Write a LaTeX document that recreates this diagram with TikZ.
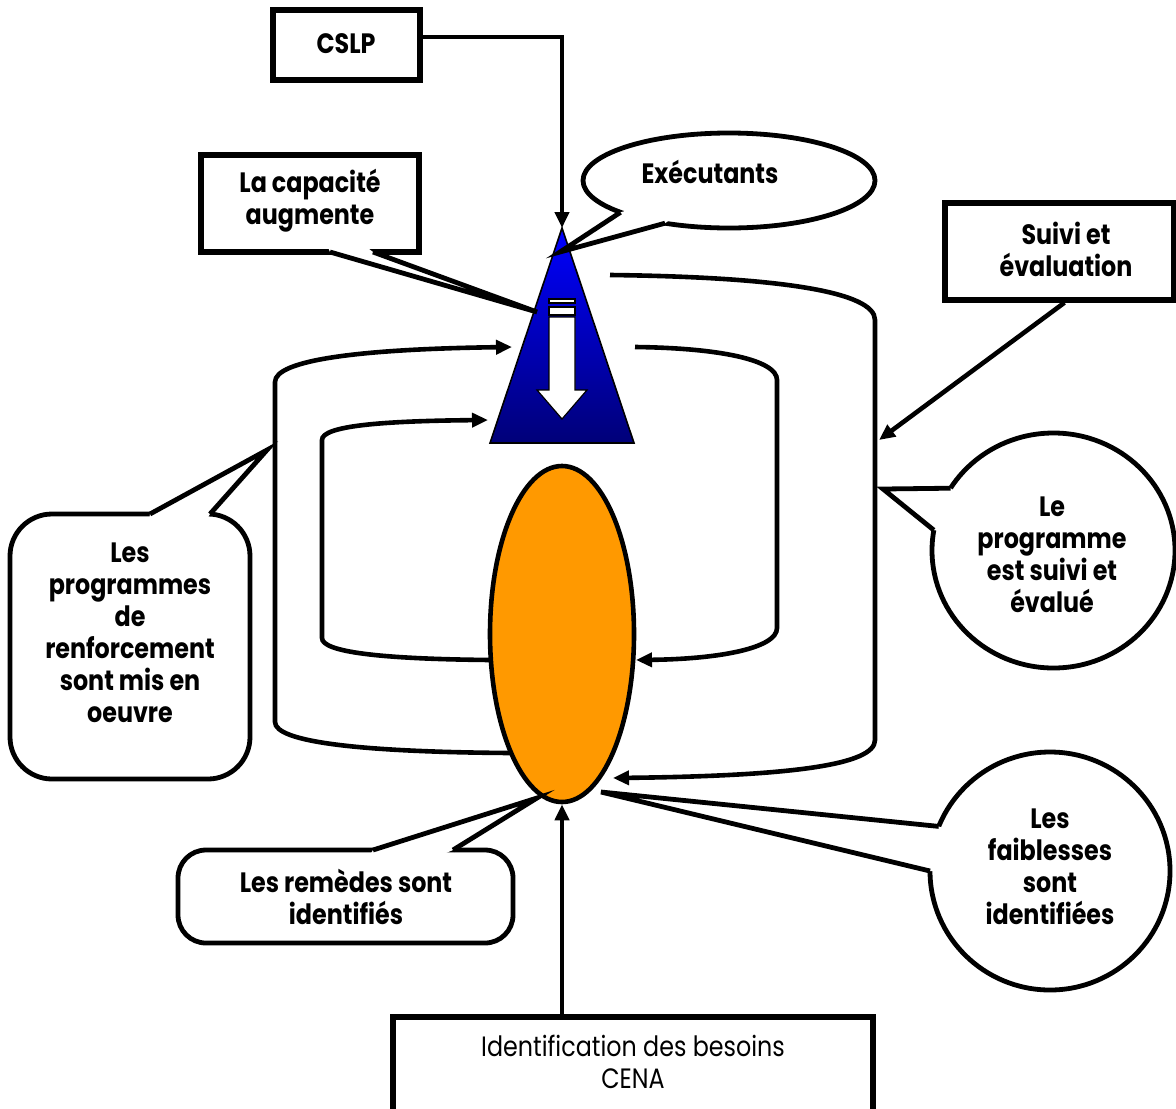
\documentclass[tikz,border=0pt]{standalone}
\usepackage{fontspec}
\setmainfont{Poppins}[FakeStretch=0.85]
\usetikzlibrary{arrows.meta,shapes.geometric}
\definecolor{orng}{RGB}{255,153,0}
\definecolor{tribright}{RGB}{0,0,255}
\definecolor{tridark}{RGB}{0,0,120}
\tikzset{
  conn/.style={line width=2.3pt, -{Triangle[length=8pt,width=7pt]}},
  loopline/.style={line width=2.3pt, -{Triangle[length=8pt,width=7pt]}},
  framebox/.style={draw, line width=2.6pt, fill=white, inner sep=0pt, rectangle},
  bubble/.style={draw, line width=2.4pt, fill=white},
  wedgefill/.style={fill=white, draw=none},
  wedgeline/.style={line width=2.4pt, line join=miter},
  lbl/.style={font=\bfseries\fontsize{14}{16}\selectfont, align=center, inner sep=0pt},
  plainlbl/.style={font=\fontsize{14}{16}\selectfont, align=center, inner sep=0pt},
}
\begin{document}
\begin{tikzpicture}[x=0.5pt,y=-0.5pt]
\useasboundingbox (0,0) rectangle (1176,1108);

% ---- loops
\coordinate (olStart) at (511,753);
\coordinate (olEnd) at (512,347);
\coordinate (ilStart) at (491,660);
\coordinate (ilEnd) at (488,420);
\coordinate (irStart) at (635,347);
\coordinate (irEnd) at (636,660);
\coordinate (orStart) at (610,275);
\coordinate (orEnd) at (613,778);
\draw[loopline] (olStart) .. controls (360,752) and (275,742) .. (275,722) -- (275,382) .. controls (275,360) and (360,349) .. (olEnd);
\draw[loopline] (ilStart) .. controls (380,659) and (322,652) .. (322,638) -- (322,440) .. controls (322,426) and (380,421) .. (ilEnd);
\draw[loopline] (irStart) .. controls (720,348) and (777,360) .. (777,380) -- (777,628) .. controls (777,648) and (720,659) .. (irEnd);
\draw[loopline] (orStart) .. controls (780,277) and (875,292) .. (875,320) -- (875,740) .. controls (875,765) and (790,776) .. (orEnd);

% ---- triangle
\coordinate (apex) at (562,228);
\coordinate (triR) at (634,443);
\coordinate (triL) at (490,443);
\shadedraw[top color=tribright, bottom color=tridark, draw=black, line width=0.8pt] (apex) -- (triR) -- (triL) -- cycle;
\filldraw[fill=white, draw=black, line width=0.6pt] (549,317) -- (575,317) -- (575,390) -- (587,390) -- (562,419) -- (537,390) -- (549,390) -- cycle;
\filldraw[fill=white, draw=black, line width=0.6pt] (549,299) rectangle (575,303);
\filldraw[fill=white, draw=black, line width=0.6pt] (549,307) rectangle (575,315);

% ---- ellipse
\node[ellipse, draw, line width=2.3pt, fill=orng, minimum width=72pt, minimum height=168pt, inner sep=0pt] (core) at (562,634) {};

% ---- plain boxes
\node[framebox, minimum width=73.5pt, minimum height=35pt] (cslp) at (346.5,45) {};
\node[framebox, minimum width=114.5pt, minimum height=48.5pt] (suivi) at (1059.5,251.5) {};
\node[framebox, minimum width=240pt, minimum height=51.5pt] (besoins) at (633,1068.5) {};

% ---- callout: La capacite
\node[framebox, minimum width=109pt, minimum height=48.5pt] (cap) at (310,203.5) {};
\coordinate (capB1) at (330,252);
\coordinate (capB2) at (373,252);
\coordinate (capTip) at (537,312);
\fill[wedgefill] (cap.center) -- (capB1) -- (capTip) -- (capB2) -- cycle;
\draw[wedgeline] (capB1) -- (capTip) -- (capB2);

% ---- callout: Executants
\coordinate (exC) at (729,180.5);
\draw[bubble] (exC) ellipse [x radius=146, y radius=47.5];
\coordinate (exB1) at (620.5,212.3);
\coordinate (exB2) at (665,223.2);
\coordinate (exTip) at (560,252);
\fill[wedgefill] (exC) -- (exB1) -- (exTip) -- (exB2) -- cycle;
\draw[wedgeline] (exB1) -- (exTip) -- (exB2);

% ---- callout: Le programme
\coordinate (pgC) at (1053.5,550.5);
\draw[bubble] (pgC) ellipse [x radius=121.5, y radius=117.5];
\coordinate (pgB1) at (950.5,488.2);
\coordinate (pgB2) at (933.8,530.1);
\coordinate (pgTip) at (883,489);
\fill[wedgefill] (pgC) -- (pgB1) -- (pgTip) -- (pgB2) -- cycle;
\draw[wedgeline] (pgB1) -- (pgTip) -- (pgB2);

% ---- callout: Les faiblesses
\coordinate (fbC) at (1050,871);
\draw[bubble] (fbC) ellipse [x radius=120, y radius=119];
\coordinate (fbB1) at (938.7,826.4);
\coordinate (fbB2) at (930,871);
\coordinate (fbTip) at (601,792);
\fill[wedgefill] (fbC) -- (fbB1) -- (fbTip) -- (fbB2) -- cycle;
\draw[wedgeline] (fbB1) -- (fbTip) -- (fbB2);

% ---- callout: programmes de renforcement
\coordinate (prC) at (130,646.5);
\draw[bubble, rounded corners=21pt] (10,514) rectangle (250,779);
\coordinate (prB1) at (150,514);
\coordinate (prB2) at (210,514);
\coordinate (prTip) at (267,450);
\fill[wedgefill] (prC) -- (prB1) -- (prTip) -- (prB2) -- cycle;
\draw[wedgeline] (prB1) -- (prTip) -- (prB2);

% ---- callout: remedes
\coordinate (rmC) at (345.5,896.5);
\draw[bubble, rounded corners=14pt] (178,850) rectangle (513,943);
\coordinate (rmB1) at (373,850);
\coordinate (rmB2) at (453,850);
\coordinate (rmTip) at (537,798);
\fill[wedgefill] (rmC) -- (rmB1) -- (rmTip) -- (rmB2) -- cycle;
\draw[wedgeline] (rmB1) -- (rmTip) -- (rmB2);

% ---- texts
\node[lbl] (cslpT) at (346,44) {CSLP};
\node[lbl] (capT) at (310,201) {La capacité\\augmente};
\node[lbl] (exT) at (710,172) {Exécutants};
\node[lbl] (suiviT) at (1066,249) {Suivi et\\évaluation};
\node[lbl] (pgT) at (1052,555) {Le\\programme\\est suivi et\\évalué};
\node[lbl] (prT) at (130,633) {Les\\programmes\\de\\renforcement\\sont mis en\\oeuvre};
\node[lbl] (rmT) at (346,897) {Les remèdes sont\\identifiés};
\node[lbl] (fbT) at (1050,867) {Les\\faiblesses\\sont\\identifiées};
\node[plainlbl] (besoinsT) at (633,1062) {Identification des besoins\\CENA};

% ---- connectors
\coordinate (suiviEnd) at (879,440);
\draw[conn] ([yshift=4pt]cslp.east) -| (apex);
\draw[conn] (core.south |- besoins.north) -- (core.south);
\draw[conn] ([xshift=2.5pt]suivi.south) -- (suiviEnd);
\end{tikzpicture}
\end{document}
